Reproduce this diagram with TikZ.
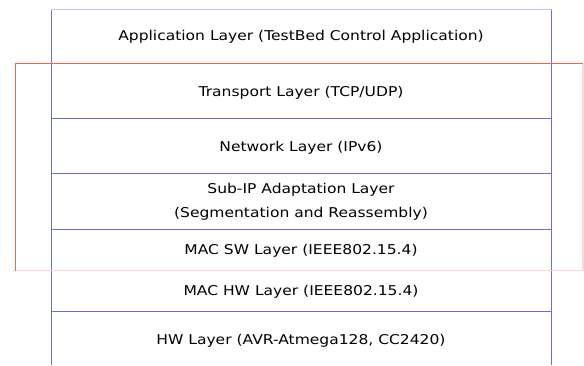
\documentclass[tikz,border=0pt]{standalone}
\usepackage{fontspec}
\setmainfont{DejaVu Sans}[FakeStretch=1.15]
\usetikzlibrary{positioning}
\definecolor{laybl}{RGB}{110,110,210}
\definecolor{boxrd}{RGB}{240,100,80}

\begin{document}
\begin{tikzpicture}[x=1pt,y=-1pt,
  layer/.style={font=\fontsize{13.5}{24}\selectfont, align=center, inner sep=0pt},
  sep/.style={draw=laybl, line width=1.1pt}]
\useasboundingbox (0,0) rectangle (584,365);
% stack outline
\draw[draw=laybl!40, line width=1.1pt](51.5,9.5)--(551.5,9.5);
\draw[sep](51.5,9.5)--(51.5,365);
\draw[sep](551.5,9.5)--(551.5,365);
\draw[sep](51.5,118.5)--(551.5,118.5);
\draw[sep](51.5,173.5)--(551.5,173.5);
\draw[sep](51.5,229.5)--(551.5,229.5);
\draw[sep](51.5,311.5)--(551.5,311.5);
% layers
\node[layer] (app) at (301,37) {Application Layer (TestBed Control Application)};
\node[layer] (trans) at (301,93) {Transport Layer (TCP/UDP)};
\node[layer] (net) at (301,148) {Network Layer (IPv6)};
\node[layer] (subip) at (301,202) {Sub-IP Adaptation Layer\\(Segmentation and Reassembly)};
\node[layer] (macsw) at (301,251) {MAC SW Layer (IEEE802.15.4)};
\node[layer] (machw) at (301,292) {MAC HW Layer (IEEE802.15.4)};
\node[layer] (hw) at (301,341) {HW Layer (AVR-Atmega128, CC2420)};
% red frame
\draw[boxrd, line width=1.1pt](15.5,270.5)--(15.5,63.5)--(583,63.5);
\draw[boxrd!25, line width=1.1pt](15.5,270.5)--(583,270.5)--(583,63.5);
\end{tikzpicture}
\end{document}
